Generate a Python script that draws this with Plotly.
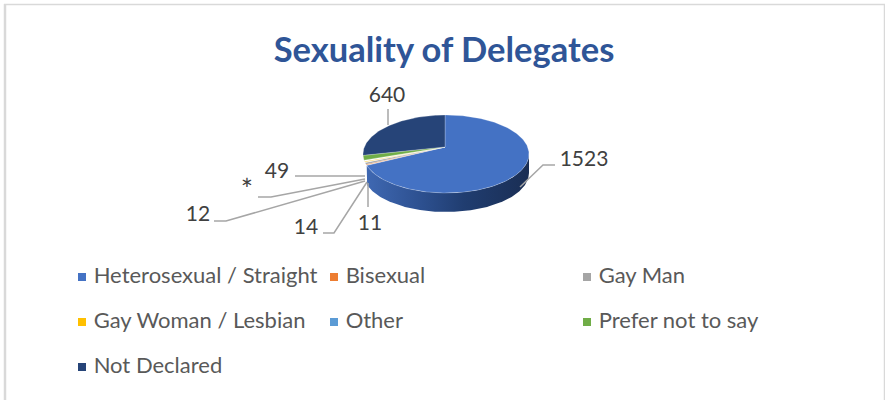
import math
import plotly.graph_objects as go

categories = ["Heterosexual / Straight", "Bisexual", "Gay Man", "Gay Woman / Lesbian", "Other", "Prefer not to say", "Not Declared"]
values = [1523, 11, 14, 12, 5, 49, 640]
value_labels = ["1523", "11", "14", "12", "*", "49", "640"]
colors = ["#4472C4", "#ED7D31", "#A5A5A5", "#FFC000", "#5B9BD5", "#70AD47", "#264478"]
title = "Sexuality of Delegates"

CX, CY, RX, RY, DEPTH = 446, 154, 83, 39, 19
APEX_X, APEX_Y = 445, 147  # perspective: slices meet above the ellipse centre
FONT = "Lato"
TEXT = "#595959"

label_pos = [(584, 161), (370, 225), (306, 229), (198, 216), (247, 193), (277, 173), (387, 97)]
label_sizes = [21, 21, 21, 21, 29, 21, 21]
leaders = [
    [(555, 165), (543, 165), (520, 187)],
    [(368, 207), (368, 183)],
    [(323, 233), (334, 233), (367, 182)],
    [(214, 221), (226, 221), (365, 181)],
    [(258, 197), (271, 197), (365, 179)],
    [(295, 176), (365, 176)],
    [(388, 109), (388, 125)],
]
legend_pos = [(82, 277), (334, 277), (587, 277), (82, 322), (334, 322), (587, 322), (82, 367)]

fig = go.Figure()


def ellipse(t, dy=0):
    return CX + RX * math.sin(t), CY - RY * math.cos(t) + dy


def rim_param(a):
    """Ellipse parameter where the ray from the apex at slice angle a meets the rim."""
    ux, uy = math.sin(a), -math.cos(a)
    ox, oy = (APEX_X - CX) / RX, (APEX_Y - CY) / RY
    A = ux * ux + uy * uy
    B = 2 * (ox * ux + oy * uy)
    C = ox * ox + oy * oy - 1
    s = (-B + math.sqrt(B * B - 4 * A * C)) / (2 * A)
    X, Y = ox + s * ux, oy + s * uy
    return math.atan2(X, -Y) % (2 * math.pi)


total = sum(values)
angles = [0.0]
for v in values:
    angles.append(angles[-1] + 2 * math.pi * v / total)
params = [rim_param(a) for a in angles[:-1]]
if params[0] > math.pi:
    params[0] -= 2 * math.pi
params.append(params[0] + 2 * math.pi)


def arc(t0, t1, dy=0):
    n = max(2, int(abs(t1 - t0) * 60))
    return [ellipse(t0 + (t1 - t0) * i / n, dy) for i in range(n + 1)]


# side wall of the first slice, visible part of the rim only
w0, w1 = math.pi / 2, params[1]
top = arc(w0, w1)
bottom = arc(w1, w0, DEPTH)
wall = top + bottom + [top[0]]
fig.add_trace(go.Scatter(
    x=[p[0] for p in wall], y=[p[1] for p in wall], mode="lines", line=dict(width=0),
    fill="toself", hoverinfo="skip", showlegend=False,
    fillgradient=dict(type="horizontal", colorscale=[[0, "#3F68B2"], [0.35, "#2C4F8E"], [0.6, "#203D70"], [1, "#1A2E54"]]),
))

# top face slices
for i, c in enumerate(categories):
    pts = [(APEX_X, APEX_Y)] + arc(params[i], params[i + 1]) + [(APEX_X, APEX_Y)]
    fig.add_trace(go.Scatter(
        x=[p[0] for p in pts], y=[p[1] for p in pts], mode="lines",
        line=dict(color="rgba(255,255,255,0.6)", width=0.4),
        fill="toself", fillcolor=colors[i], name=c, text=str(value_labels[i]),
        hoverinfo="name+text", showlegend=False,
    ))

# leader lines
for ln in leaders:
    fig.add_trace(go.Scatter(x=[p[0] for p in ln], y=[p[1] for p in ln], mode="lines",
                             line=dict(color="#A6A6A6", width=1.5), hoverinfo="skip", showlegend=False))

# value labels
fig.add_trace(go.Scatter(x=[p[0] for p in label_pos], y=[p[1] for p in label_pos], mode="text",
                         text=value_labels, textposition="middle center",
                         textfont=dict(family=FONT, size=label_sizes, color="#404040"),
                         hoverinfo="skip", showlegend=False))

# legend
for i, c in enumerate(categories):
    x, y = legend_pos[i]
    fig.add_trace(go.Scatter(x=[x], y=[y], mode="markers+text", text=[" " + c], textposition="middle right",
                             marker=dict(symbol="square", size=8, color=colors[i]),
                             textfont=dict(family=FONT, size=22, color=TEXT),
                             hoverinfo="skip", showlegend=False))

fig.update_layout(
    width=885, height=400, margin=dict(l=0, r=0, t=0, b=0),
    paper_bgcolor="white", plot_bgcolor="white",
    xaxis=dict(range=[0, 885], visible=False, fixedrange=True),
    yaxis=dict(range=[400, 0], visible=False, fixedrange=True),
    title=dict(text="<b>%s</b>" % title, x=444 / 885, y=1 - 50 / 400, xanchor="center", yanchor="middle",
               font=dict(family=FONT, size=34.5, color="#2F5597")),
    shapes=[
        dict(type="line", xref="x", yref="y", x0=5, x1=5, y0=4, y1=400, line=dict(color="#D9D9D9", width=2.5)),
        dict(type="line", xref="x", yref="y", x0=4, x1=885, y0=4.5, y1=4.5, line=dict(color="#D9D9D9", width=1.5)),
        dict(type="line", xref="x", yref="y", x0=884.5, x1=884.5, y0=4, y1=400, line=dict(color="#D9D9D9", width=1.5)),
    ],
)
fig.write_html("out.html", config={"displayModeBar": False},
               post_script="document.body.style.margin='0';document.body.style.overflow='hidden';")
